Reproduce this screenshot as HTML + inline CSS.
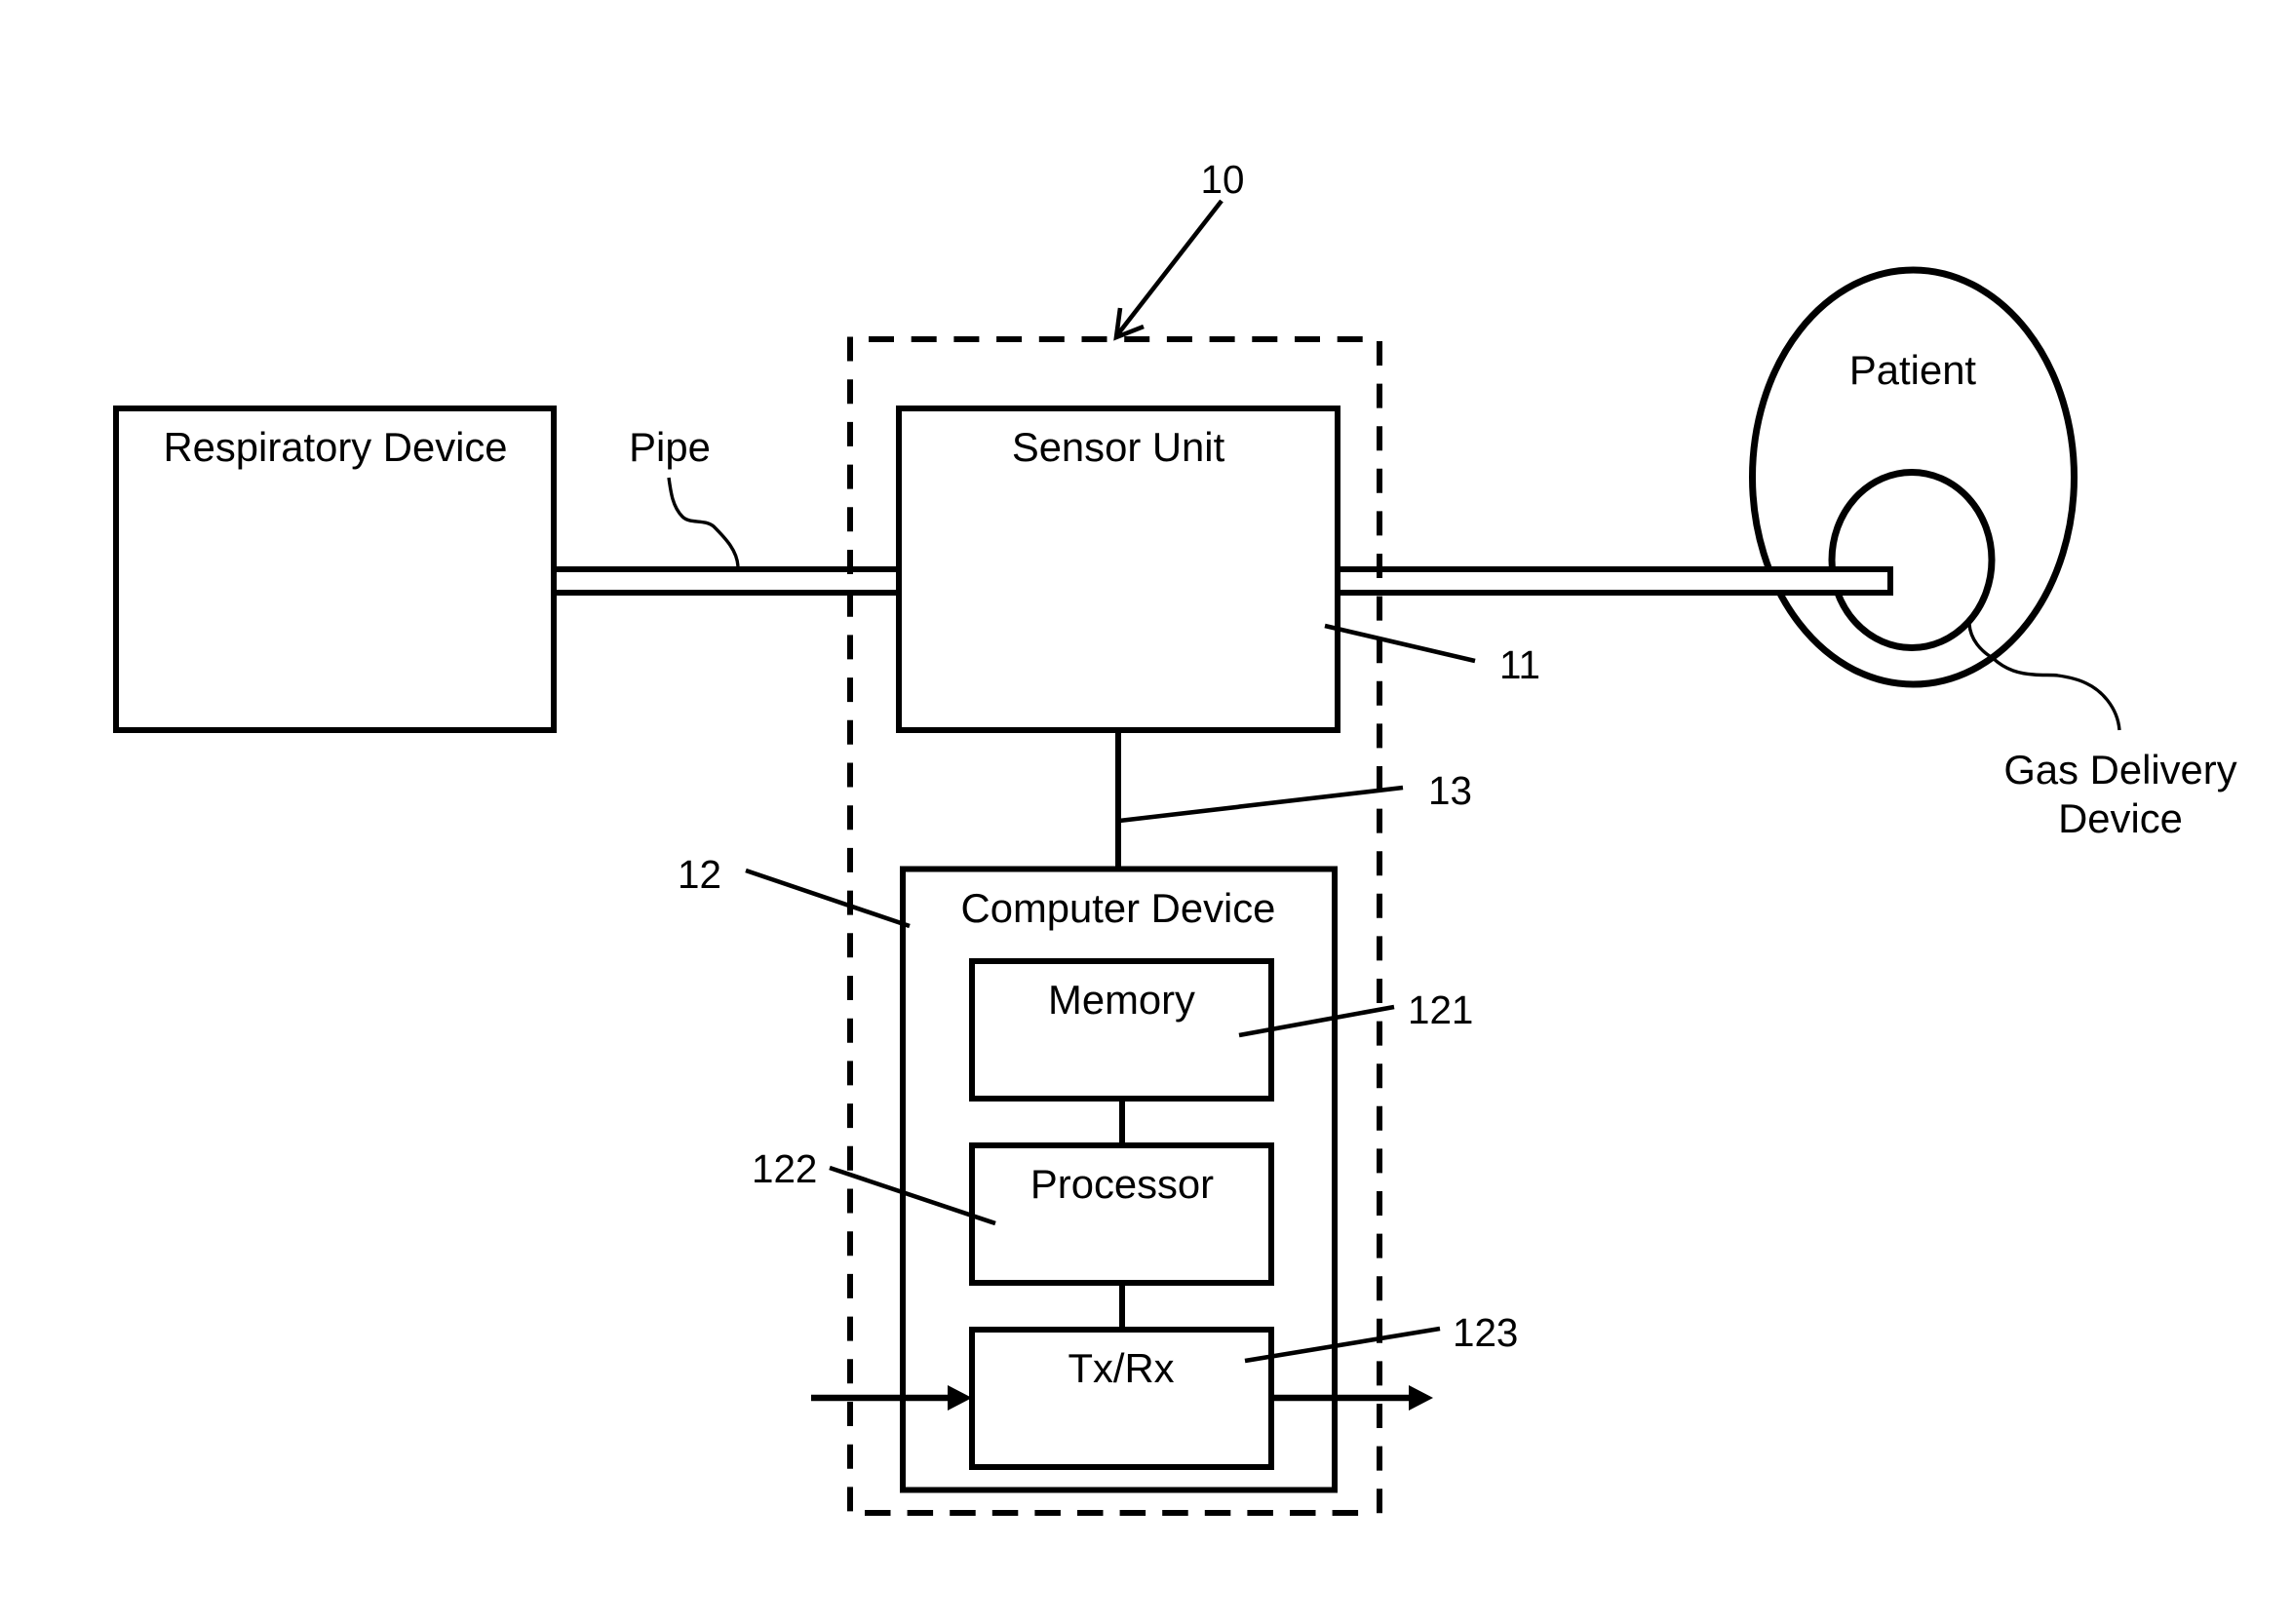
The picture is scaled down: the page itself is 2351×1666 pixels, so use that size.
<!DOCTYPE html>
<html><head><meta charset="utf-8"><style>
html,body{margin:0;padding:0;background:#fff}
svg{display:block}
text{font-family:"Liberation Sans",sans-serif;font-size:41.8px;fill:#000}
text.n{font-size:40.4px}
.m{text-anchor:middle}
</style></head><body>
<svg xmlns="http://www.w3.org/2000/svg" width="2351" height="1666" viewBox="0 0 2351 1666">
<rect width="2351" height="1666" fill="#fff"/>
<g fill="none" stroke="#000" stroke-width="6">
  <!-- patient -->
  <ellipse cx="1962.5" cy="489.5" rx="165" ry="212.5" stroke-width="7"/>
  <ellipse cx="1961" cy="574.5" rx="82" ry="90" stroke-width="7"/>
  <!-- pipes -->
  <rect x="1372" y="584" width="567" height="24" fill="#fff"/>
  <path d="M568 584H922M568 608H922"/>
  <!-- dashed boundary -->
  <path d="M891 348H1399" stroke-dasharray="26 17.7"/>
  <path d="M887 1552H1395" stroke-dasharray="26.5 17.1"/>
  <path d="M872 345.5V1553" stroke-dasharray="25 18.7"/>
  <path d="M1415 350V1555" stroke-dasharray="25 18.6"/>
  <!-- boxes -->
  <rect x="119" y="419" width="449" height="330" fill="#fff"/>
  <rect x="922" y="419" width="450" height="330" fill="#fff"/>
  <path d="M1147 749V891"/>
  <rect x="926" y="891.5" width="443" height="637"/>
  <rect x="997" y="986" width="307" height="141"/>
  <rect x="997" y="1175" width="307" height="141"/>
  <rect x="997" y="1364" width="307" height="141"/>
  <path d="M1151 1127V1175M1151 1316V1364"/>
  <!-- arrows -->
  <path d="M832 1434H975M1304 1434H1448" stroke-width="6.5"/>
</g>
<path d="M972 1421L997 1434L972 1447Z M1445 1421L1470 1434L1445 1447Z" fill="#000"/>
<g fill="none" stroke="#000" stroke-width="4.6">
  <path d="M1253 206L1145 345M1149 316L1145 346L1173 335"/>
  <path d="M1359 642L1513 678"/>
  <path d="M1148 842L1439 808"/>
  <path d="M765 893L933 950"/>
  <path d="M1271 1062L1430 1033"/>
  <path d="M851 1198L1021 1255"/>
  <path d="M1277 1396L1477 1363"/>
</g>
<g fill="none" stroke="#000" stroke-width="3.4">
  <path d="M686 490C688 505 690 520 700 530C708 538 722 532 732 540C745 553 756 565 757 581"/>
  <path d="M2020 640C2021 656 2032 668 2044 675C2058 688 2072 691 2086 692C2095 693 2105 692 2111 693C2125 695 2134 698 2140 701C2155 708 2172 725 2174 749"/>
</g>
<text class="m" x="344" y="473">Respiratory Device</text>
<text class="m" x="687" y="473">Pipe</text>
<text class="m" x="1147" y="473">Sensor Unit</text>
<text class="m" x="1962" y="394">Patient</text>
<text class="m" x="2175" y="804">Gas Delivery</text>
<text class="m" x="2175" y="854">Device</text>
<text class="m" x="1147" y="946">Computer Device</text>
<text class="m" x="1150.5" y="1040">Memory</text>
<text class="m" x="1151" y="1229">Processor</text>
<text class="m" x="1150" y="1418">Tx/Rx</text>
<text class="m n" x="1254" y="198">10</text>
<text class="n" x="1538" y="696">11</text>
<text class="n" x="695" y="911">12</text>
<text class="n" x="1465" y="825">13</text>
<text class="n" x="1444" y="1050">121</text>
<text class="n" x="771" y="1213">122</text>
<text class="n" x="1490" y="1381">123</text>
</svg>
</body></html>
